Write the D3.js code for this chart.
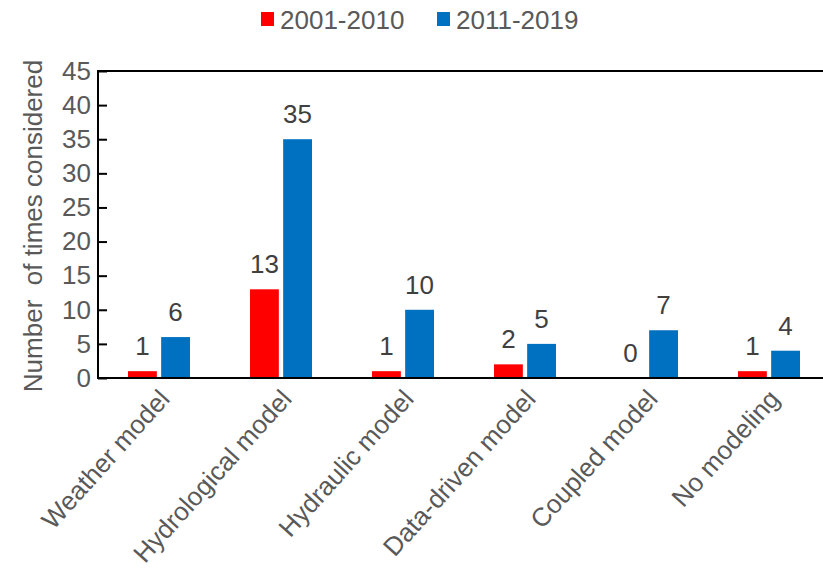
<!DOCTYPE html>
<html><head><meta charset="utf-8">
<script src="https://cdn.jsdelivr.net/npm/d3@7"></script>
<style>body{margin:0;background:#fff;} svg{display:block;font-family:"Liberation Sans",Arial,sans-serif;}</style>
</head><body>
<script>
const categories = ["Weather model","Hydrological model","Hydraulic model","Data-driven model","Coupled model","No modeling"];
const series = ["2001-2010","2011-2019"];
const values2001 = [1,13,1,2,0,1];
const values2011 = [6,35,10,5,7,4];
const yTicks = [0,5,10,15,20,25,30,35,40,45];
const colors = ["#FF0000","#0070C0"];

const W=823,H=577;
const svg=d3.select("body").append("svg").attr("width",W).attr("height",H);
const pL=98, pR=830, pT=71, pB=378;
const FS=26;
const x=d3.scaleBand().domain(categories).range([pL,pR]);
const xs=d3.scaleBand().domain(series).range([0,62]).paddingInner(0.13);
const y=d3.scaleLinear().domain([0,45]).range([pB,pT]);
const data=[values2001,values2011];

// plot frame
svg.append("path").attr("d",`M${pL},${pB}V${pT}H${W+5}`).attr("fill","none").attr("stroke","#000").attr("stroke-width",2);

// bars
series.forEach((s,si)=>{
  const g=svg.append("g");
  g.selectAll("rect").data(categories).join("rect")
   .attr("x",c=>x(c)+30+xs(s)).attr("width",xs.bandwidth())
   .attr("y",(c,i)=>y(data[si][i])).attr("height",(c,i)=>pB-y(data[si][i]))
   .attr("fill",colors[si]);
  g.selectAll("text").data(categories).join("text")
   .attr("x",c=>x(c)+30+xs(s)+xs.bandwidth()/2)
   .attr("y",(c,i)=>y(data[si][i])-16)
   .attr("text-anchor","middle").attr("font-size",FS).attr("fill","#404040")
   .text((c,i)=>data[si][i]);
});

// y axis
const ya=d3.axisLeft(y).tickValues(yTicks).tickSize(-9).tickPadding(7);
const yg=svg.append("g").attr("transform",`translate(${pL},0)`).call(ya);
yg.select(".domain").remove();
yg.selectAll(".tick line").attr("stroke","#000").attr("stroke-width",2);
yg.selectAll(".tick text").attr("font-size",FS).attr("fill","#595959").attr("font-family","Liberation Sans, Arial, sans-serif");

// x axis line
svg.append("line").attr("x1",pL-1).attr("x2",W+5).attr("y1",pB).attr("y2",pB).attr("stroke","#000").attr("stroke-width",2);

// x labels
svg.append("g").selectAll("text").data(categories).join("text")
  .attr("transform",c=>`translate(${x(c)+x.bandwidth()/2+12},400) rotate(-48)`)
  .attr("text-anchor","end").attr("font-size",FS).attr("fill","#595959").text(c=>c);

// y title
svg.append("text").attr("transform",`translate(42,226) rotate(-90)`).attr("text-anchor","middle")
  .attr("font-size",FS).attr("fill","#595959").attr("xml:space","preserve").text("Number  of times considered");

// legend
const lg=svg.append("g");
const lx=[261,437];
series.forEach((s,i)=>{
  lg.append("rect").attr("x",lx[i]).attr("y",12).attr("width",13).attr("height",14).attr("fill",colors[i]);
  lg.append("text").attr("x",lx[i]+19).attr("y",29).attr("font-size",FS).attr("fill","#595959").text(s);
});
</script>
</body></html>
